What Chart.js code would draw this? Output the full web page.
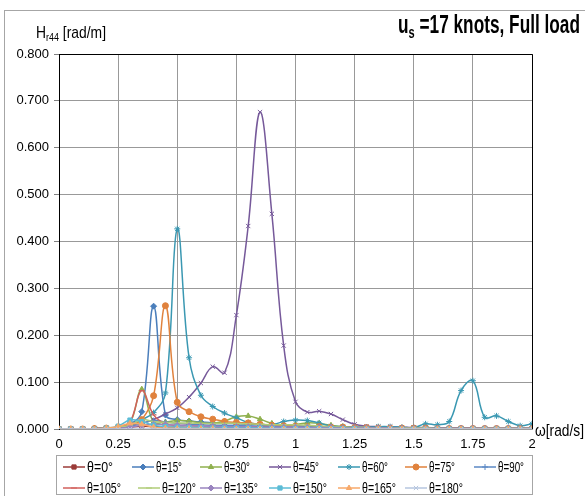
<!DOCTYPE html>
<html>
<head>
<meta charset="utf-8">
<script src="https://cdn.jsdelivr.net/npm/chart.js@4/dist/chart.umd.min.js"></script>
<style>
  html, body { margin: 0; padding: 0; background: #fff; }
  #wrap { width: 585px; height: 496px; }
</style>
</head>
<body>
<div id="wrap"><canvas id="chart" width="585" height="496"></canvas></div>
<script>
// wave frequency omega [rad/s]
const omega = [0, 0.05, 0.1, 0.15, 0.2, 0.25, 0.3, 0.35, 0.4, 0.45,
  0.5, 0.55, 0.6, 0.65, 0.7, 0.75, 0.8, 0.85, 0.9, 0.95,
  1, 1.05, 1.1, 1.15, 1.2, 1.25, 1.3, 1.35, 1.4, 1.45,
  1.5, 1.55, 1.6, 1.65, 1.7, 1.75, 1.8, 1.85, 1.9, 1.95, 2];

const headings = ['θ=0°', 'θ=15°', 'θ=30°', 'θ=45°', 'θ=60°', 'θ=75°', 'θ=90°',
  'θ=105°', 'θ=120°', 'θ=135°', 'θ=150°', 'θ=165°', 'θ=180°'];

const xTicks = [0, 0.25, 0.5, 0.75, 1, 1.25, 1.5, 1.75, 2];
const yTicks = [0, 0.1, 0.2, 0.3, 0.4, 0.5, 0.6, 0.7, 0.8];

// roll RAO H_r44 [rad/m] per heading
const h0 = [0, 0, 0, 0, 0.001, 0.002, 0.004, 0.006, 0.005, 0.004,
  0.004, 0.003, 0.003, 0.003, 0.002, 0.002, 0.002, 0.002, 0.002, 0.002,
  0.002, 0.002, 0.001, 0.001, 0.001, 0.001, 0.001, 0.001, 0.001, 0.001,
  0.001, 0.001, 0.001, 0.001, 0.001, 0.001, 0.001, 0.001, 0.001, 0.001, 0.001];
const h15 = [0, 0, 0, 0.001, 0.002, 0.004, 0.01, 0.037, 0.262, 0.03,
  0.02, 0.017, 0.015, 0.013, 0.012, 0.011, 0.01, 0.009, 0.008, 0.008,
  0.007, 0.006, 0.005, 0.004, 0.003, 0.003, 0.002, 0.002, 0.002, 0.002,
  0.002, 0.001, 0.001, 0.001, 0.001, 0.001, 0.001, 0.001, 0.001, 0.001, 0.001];
const h30 = [0, 0, 0, 0.001, 0.002, 0.004, 0.012, 0.085, 0.015, 0.015,
  0.018, 0.017, 0.013, 0.012, 0.017, 0.026, 0.028, 0.021, 0.012, 0.008,
  0.01, 0.013, 0.012, 0.008, 0.005, 0.004, 0.003, 0.003, 0.002, 0.002,
  0.002, 0.002, 0.001, 0.001, 0.001, 0.001, 0.001, 0.001, 0.001, 0.001, 0.001];
const h45 = [0, 0, 0, 0.001, 0.002, 0.004, 0.007, 0.012, 0.02, 0.032,
  0.045, 0.068, 0.098, 0.133, 0.12, 0.243, 0.433, 0.676, 0.459, 0.178,
  0.058, 0.036, 0.038, 0.032, 0.02, 0.01, 0.006, 0.005, 0.005, 0.004,
  0.003, 0.003, 0.002, 0.002, 0.002, 0.002, 0.001, 0.001, 0.001, 0.001, 0.001];
const h60 = [0, 0, 0, 0.001, 0.002, 0.004, 0.01, 0.02, 0.035, 0.077,
  0.427, 0.152, 0.072, 0.048, 0.034, 0.024, 0.014, 0.01, 0.009, 0.016,
  0.019, 0.018, 0.013, 0.006, 0.005, 0.004, 0.004, 0.005, 0.005, 0.004,
  0.003, 0.011, 0.009, 0.016, 0.082, 0.103, 0.025, 0.028, 0.016, 0.007, 0.011];
const h75 = [0, 0, 0, 0.001, 0.002, 0.004, 0.008, 0.02, 0.071, 0.263,
  0.057, 0.037, 0.026, 0.021, 0.016, 0.014, 0.013, 0.01, 0.008, 0.007,
  0.006, 0.005, 0.005, 0.004, 0.004, 0.003, 0.003, 0.002, 0.002, 0.002,
  0.002, 0.002, 0.001, 0.001, 0.001, 0.001, 0.001, 0.001, 0.001, 0.001, 0.001];
const h90 = [0, 0, 0, 0, 0.001, 0.003, 0.006, 0.012, 0.018, 0.015,
  0.012, 0.01, 0.009, 0.008, 0.008, 0.007, 0.007, 0.006, 0.006, 0.005,
  0.005, 0.005, 0.004, 0.004, 0.003, 0.003, 0.003, 0.002, 0.002, 0.002,
  0.002, 0.002, 0.002, 0.001, 0.001, 0.001, 0.001, 0.001, 0.001, 0.001, 0.001];
const h105 = [0, 0, 0, 0.001, 0.002, 0.004, 0.015, 0.082, 0.03, 0.011,
  0.008, 0.007, 0.006, 0.005, 0.005, 0.004, 0.004, 0.004, 0.003, 0.003,
  0.003, 0.003, 0.002, 0.002, 0.002, 0.002, 0.001, 0.001, 0.001, 0.001,
  0.001, 0.001, 0.001, 0.001, 0.001, 0.001, 0.001, 0.001, 0.001, 0.001, 0.001];
const h120 = [0, 0, 0, 0, 0.001, 0.004, 0.008, 0.02, 0.016, 0.014,
  0.013, 0.013, 0.012, 0.012, 0.012, 0.012, 0.011, 0.01, 0.009, 0.009,
  0.009, 0.008, 0.007, 0.005, 0.004, 0.003, 0.003, 0.002, 0.002, 0.002,
  0.002, 0.002, 0.001, 0.001, 0.001, 0.001, 0.001, 0.001, 0.001, 0.001, 0.001];
const h135 = [0, 0, 0, 0, 0.001, 0.002, 0.004, 0.008, 0.01, 0.009,
  0.008, 0.007, 0.006, 0.006, 0.005, 0.005, 0.005, 0.004, 0.004, 0.004,
  0.004, 0.003, 0.003, 0.003, 0.002, 0.002, 0.002, 0.002, 0.002, 0.001,
  0.001, 0.001, 0.001, 0.001, 0.001, 0.001, 0.001, 0.001, 0.001, 0.001, 0.001];
const h150 = [0, 0, 0, 0, 0.002, 0.006, 0.019, 0.016, 0.008, 0.005,
  0.004, 0.003, 0.003, 0.002, 0.002, 0.002, 0.002, 0.002, 0.001, 0.001,
  0.001, 0.001, 0.001, 0.001, 0.001, 0.001, 0, 0, 0, 0,
  0, 0, 0, 0, 0, 0, 0, 0, 0, 0, 0];
const h165 = [0, 0, 0, 0, 0.002, 0.005, 0.012, 0.01, 0.004, 0.002,
  0.001, 0.001, 0.001, 0.001, 0, 0, 0, 0, 0, 0,
  0, 0, 0, 0, 0, 0, 0, 0, 0, 0,
  0, 0, 0, 0, 0, 0, 0, 0, 0, 0, 0];
const h180 = [0, 0, 0, 0, 0, 0, 0, 0, 0, 0,
  0, 0, 0, 0, 0, 0, 0, 0, 0, 0,
  0, 0, 0, 0, 0, 0, 0, 0, 0, 0,
  0, 0, 0, 0, 0, 0, 0, 0, 0, 0, 0];

const series = [h0, h15, h30, h45, h60, h75, h90, h105, h120, h135, h150, h165, h180];

// look of each series (colour, marker)
const colors = ['#9b3b38', '#4a7ebb', '#8fb04e', '#76599a', '#3a98b2', '#e0823d', '#5b88c4',
  '#d2605c', '#b0cc78', '#9a84bf', '#5cbcd6', '#f7a96a', '#b6c6df'];
const markers = ['rect', 'rectRot', 'triangle', 'crossRot', 'star', 'circle', 'cross',
  'line', 'line', 'rectRot', 'rect', 'triangle', 'crossRot'];

const FONT = "'Liberation Sans Narrow', 'Liberation Sans', Arial, sans-serif";

// draws text pieces squeezed to a given width
function drawSqueezed(ctx, parts, x, baseline, width) {
  let total = 0;
  parts.forEach(p => { ctx.font = p.font; total += ctx.measureText(p.text).width; });
  const s = width / total;
  ctx.save();
  ctx.translate(x, baseline);
  ctx.scale(s, 1);
  ctx.fillStyle = '#000';
  ctx.textBaseline = 'alphabetic';
  ctx.textAlign = 'left';
  let cx = 0;
  parts.forEach(p => {
    ctx.font = p.font;
    ctx.fillText(p.text, cx, p.dy || 0);
    cx += ctx.measureText(p.text).width;
  });
  ctx.restore();
}

const decorations = {
  id: 'decorations',
  beforeDraw(chart) {
    const ctx = chart.ctx;
    ctx.save();
    ctx.fillStyle = '#fff';
    ctx.fillRect(0, 0, chart.width, chart.height);
    // outer border
    ctx.strokeStyle = '#a6a6a6';
    ctx.lineWidth = 1;
    ctx.strokeRect(4.5, 10.5, 700, 700);
    ctx.restore();
  },
  beforeDatasetsDraw(chart) {
    const ctx = chart.ctx;
    const a = chart.chartArea;
    ctx.save();
    ctx.strokeStyle = '#000';
    ctx.lineWidth = 1;
    ctx.beginPath();
    ctx.moveTo(Math.round(a.left) + 0.5, Math.round(a.bottom));
    ctx.lineTo(Math.round(a.left) + 0.5, Math.round(a.top) + 0.5);
    ctx.lineTo(Math.round(a.right) + 0.5, Math.round(a.top) + 0.5);
    ctx.lineTo(Math.round(a.right) + 0.5, Math.round(a.bottom));
    ctx.stroke();
    ctx.restore();
  },
  afterDraw(chart) {
    const ctx = chart.ctx;
    // title
    drawSqueezed(ctx, [
      { text: 'u', font: 'bold 25px ' + FONT },
      { text: 's', font: 'bold 16px ' + FONT, dy: 5 },
      { text: ' =17 knots, Full load', font: 'bold 25px ' + FONT }
    ], 398, 33, 182);
    // y axis title
    drawSqueezed(ctx, [
      { text: 'H', font: '17px ' + FONT },
      { text: 'r44', font: '11px ' + FONT, dy: 3 },
      { text: ' [rad/m]', font: '17px ' + FONT }
    ], 36, 38, 70);
    // x axis title
    drawSqueezed(ctx, [{ text: 'ω[rad/s]', font: '17px ' + FONT }], 535, 436, 49);

    // legend
    ctx.save();
    ctx.strokeStyle = '#a6a6a6';
    ctx.lineWidth = 1;
    ctx.strokeRect(56.5, 455.5, 476, 39);
    const spots = [
      [63, 467], [132, 467], [200, 467], [269, 467], [338, 467], [405, 467], [474, 467],
      [63, 488], [138, 488], [200, 488], [269, 488], [338, 488], [405, 488]
    ];
    chart.data.datasets.forEach((ds, i) => {
      const [x, y] = spots[i];
      ctx.strokeStyle = ds.borderColor;
      ctx.fillStyle = ds.borderColor;
      ctx.lineWidth = 1.5;
      ctx.beginPath();
      ctx.moveTo(x, y);
      ctx.lineTo(x + 22, y);
      ctx.stroke();
      ctx.lineWidth = 1;
      if (Chart.helpers && Chart.helpers.drawPoint) {
        Chart.helpers.drawPoint(ctx, { pointStyle: ds.pointStyle, radius: 3, rotation: 0, borderWidth: 1 }, x + 11, y);
      }
      drawSqueezed(ctx, [{ text: ds.label, font: '15px ' + FONT }], x + 24, y + 5, ds.label.length > 5 ? 34 : 26);
    });
    ctx.restore();
  }
};

const datasets = series.map((vals, i) => ({
  label: headings[i],
  data: vals.map((v, j) => ({ x: omega[j], y: v })),
  borderColor: colors[i],
  backgroundColor: colors[i],
  pointStyle: markers[i],
  pointRadius: 3,
  pointBorderWidth: 1,
  borderWidth: 1.5,
  tension: 0.4,
  order: series.length - i
}));

new Chart(document.getElementById('chart'), {
  type: 'line',
  data: { datasets },
  options: {
    responsive: false,
    animation: false,
    devicePixelRatio: 1,
    layout: { padding: { left: 0, top: 54, right: 53, bottom: 0 } },
    plugins: { legend: { display: false }, tooltip: { enabled: false }, title: { display: false } },
    scales: {
      x: {
        type: 'linear',
        min: 0,
        max: 2,
        afterFit: s => { s.height = 67; },
        afterBuildTicks: s => { s.ticks = xTicks.map(v => ({ value: v })); },
        ticks: {
          color: '#000',
          font: { family: FONT, size: 13 },
          padding: 8,
          maxRotation: 0,
          callback: v => String(v)
        },
        grid: { color: '#999999', drawTicks: false },
        border: { color: '#9a9a9a' }
      },
      y: {
        min: 0,
        max: 0.8,
        afterFit: s => { s.width = 59; },
        afterBuildTicks: s => { s.ticks = yTicks.map(v => ({ value: v })); },
        ticks: {
          color: '#000',
          font: { family: FONT, size: 13 },
          padding: 5,
          callback: v => v.toFixed(3)
        },
        grid: { color: '#999999', tickLength: 5, tickColor: '#808080' },
        border: { color: '#000' }
      }
    }
  },
  plugins: [decorations]
});
</script>
</body>
</html>
